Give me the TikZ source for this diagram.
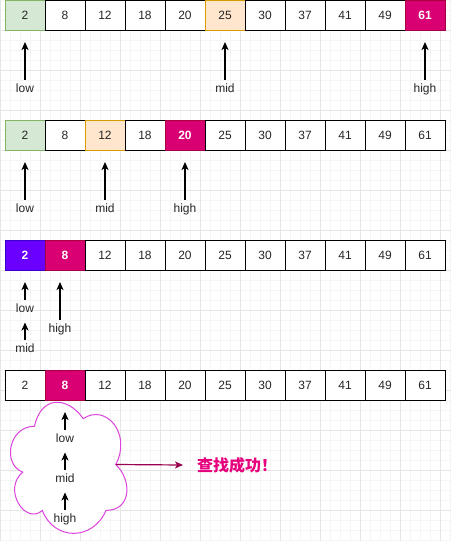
\documentclass[tikz,border=0pt]{standalone}
\usepackage{fontspec}
\setmainfont{Liberation Sans}
\newfontfamily\cjk{Noto Sans CJK SC}
\usetikzlibrary{arrows.meta}

\definecolor{lowfill}{HTML}{D5E8D4}
\definecolor{lowline}{HTML}{82B366}
\definecolor{midfill}{HTML}{FFE6CC}
\definecolor{midline}{HTML}{D79B00}
\definecolor{hifill}{HTML}{D80073}
\definecolor{hiline}{HTML}{A50040}
\definecolor{bothfill}{HTML}{6A00FF}
\definecolor{bothline}{HTML}{3700CC}
\definecolor{cloudline}{HTML}{DD44DD}
\definecolor{okarrow}{HTML}{99004D}
\definecolor{oktext}{HTML}{E6007E}

\begin{document}
\begin{tikzpicture}[x=1pt,y=-1pt,
	cell/.style={draw=black,fill=white,line width=1pt,minimum width=40pt,minimum height=30pt,inner sep=0pt,font=\fontsize{12}{14}\selectfont,text=black!85},
	low cell/.style={cell,draw=lowline,fill=lowfill},
	mid cell/.style={cell,draw=midline,fill=midfill},
	high cell/.style={cell,draw=hiline,fill=hifill,text=white,font=\fontsize{12}{14}\selectfont\bfseries},
	both cell/.style={cell,draw=bothline,fill=bothfill,text=white,font=\fontsize{12}{14}\selectfont\bfseries},
	ptr/.style={-{Stealth[length=8pt,width=7pt,inset=2pt]},line width=1.2pt},
	ptr label/.style={font=\fontsize{12}{14}\selectfont,text=black!85,text height=9pt,text depth=2.5pt,inner xsep=1pt,inner ysep=3.5pt}
]

	\def \tip {-11.5pt};

	% background grid
	\useasboundingbox (0,0) rectangle (451,541);
	\fill[white] (0,0) rectangle (451,541);
	\foreach \x in {0,10,...,450} {
		\draw[black!4] (\x,0) -- (\x,541);
	}
	\foreach \y in {0,10,...,540} {
		\draw[black!4] (0,\y) -- (451,\y);
	}
	\foreach \x in {0,40,...,440} {
		\draw[black!10] (\x,0) -- (\x,541);
	}
	\foreach \y in {30,70,...,510} {
		\draw[black!10] (0,\y) -- (451,\y);
	}

	% row 1
	\foreach \v/\s [count=\i] in {2/low cell,8/cell,12/cell,18/cell,20/cell,25/mid cell,30/cell,37/cell,41/cell,49/cell,61/high cell} {
		\node[\s] (a\i) at ({25+40*(\i-1)},15) {\v};
	}
	\node[ptr label] (lowa) at (25,89) {low};
	\node[ptr label] (mida) at (225,89) {mid};
	\node[ptr label] (higha) at (425,89) {high};
	\draw[ptr] (lowa) -- ([yshift=\tip]a1.south);
	\draw[ptr] (mida) -- ([yshift=\tip]a6.south);
	\draw[ptr] (higha) -- ([yshift=\tip]a11.south);

	% row 2
	\foreach \v/\s [count=\i] in {2/low cell,8/cell,12/mid cell,18/cell,20/high cell,25/cell,30/cell,37/cell,41/cell,49/cell,61/cell} {
		\node[\s] (b\i) at ({25+40*(\i-1)},135) {\v};
	}
	\node[ptr label] (lowb) at (25,209) {low};
	\node[ptr label] (midb) at (105,209) {mid};
	\node[ptr label] (highb) at (185,209) {high};
	\draw[ptr] (lowb) -- ([yshift=\tip]b1.south);
	\draw[ptr] (midb) -- ([yshift=\tip]b3.south);
	\draw[ptr] (highb) -- ([yshift=\tip]b5.south);

	% row 3
	\foreach \v/\s [count=\i] in {2/both cell,8/high cell,12/cell,18/cell,20/cell,25/cell,30/cell,37/cell,41/cell,49/cell,61/cell} {
		\node[\s] (c\i) at ({25+40*(\i-1)},255) {\v};
	}
	\node[ptr label] (lowc) at (25,309) {low};
	\node[ptr label] (midc) at (25,349) {mid};
	\node[ptr label] (highc) at (60,329) {high};
	\draw[ptr] (lowc) -- ([yshift=\tip]c1.south);
	\draw[ptr] (midc) -- ([yshift=-4pt]lowc.south);
	\draw[ptr] (highc) -- ([yshift=\tip]highc.north |- c2.south);

	% row 4
	\foreach \v/\s [count=\i] in {2/cell,8/high cell,12/cell,18/cell,20/cell,25/cell,30/cell,37/cell,41/cell,49/cell,61/cell} {
		\node[\s] (d\i) at ({25+40*(\i-1)},385) {\v};
	}
	% cloud round the three pointers
	\begin{scope}[shift={(2,388)},x=130pt,y=-153pt]
		\draw[cloudline,fill=white,line width=1pt] (0.25,0.25)
			.. controls (0.05,0.25) and (0,0.5) .. (0.16,0.55)
			.. controls (0,0.66) and (0.18,0.9) .. (0.31,0.8)
			.. controls (0.4,1) and (0.7,1) .. (0.8,0.8)
			.. controls (1,0.8) and (1,0.6) .. (0.875,0.5)
			.. controls (1,0.3) and (0.8,0.1) .. (0.625,0.2)
			.. controls (0.5,0.05) and (0.3,0.05) .. (0.25,0.25) -- cycle;
		\coordinate (cloudedge) at (0.875,0.5);
	\end{scope}
	\node[ptr label] (lowd) at (65,439) {low};
	\node[ptr label] (midd) at (65,479) {mid};
	\node[ptr label] (highd) at (65,519) {high};
	\draw[ptr] (lowd) -- ([yshift=\tip]d2.south);
	\draw[ptr] (midd) -- ([yshift=-4pt]lowd.south);
	\draw[ptr] (highd) -- ([yshift=-4pt]midd.south);

	\node[anchor=west,inner xsep=14pt,text=oktext,font=\cjk\fontsize{16}{19}\selectfont\bfseries] (found) at (183,465) {查找成功！};
	\draw[ptr,okarrow] (cloudedge) -- (found.west);
\end{tikzpicture}
\end{document}
